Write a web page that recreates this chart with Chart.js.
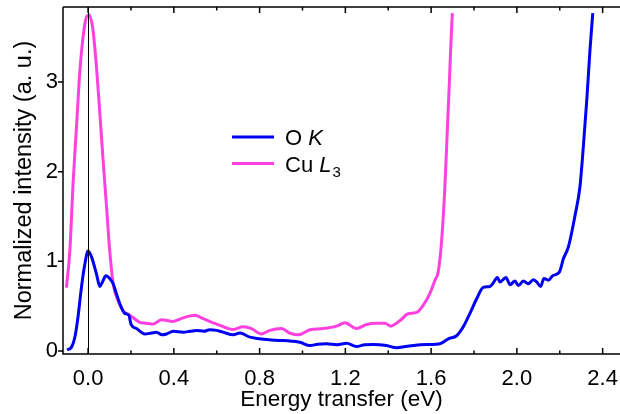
<!DOCTYPE html>
<html>
<head>
<meta charset="utf-8">
<script src="https://cdn.jsdelivr.net/npm/chart.js@4.4.1/dist/chart.umd.min.js"></script>
<style>
  html, body { margin: 0; padding: 0; background: #fff; }
  #wrap { width: 620px; height: 414px; }
</style>
</head>
<body>
<div id="wrap"><canvas id="myChart" width="620" height="414"></canvas></div>
<script>
// O K edge (blue)
const energyO = [
  -0.098, -0.078, -0.062, -0.047, -0.031, -0.015, 0, 0.016, 0.039, 0.055,
  0.067, 0.083, 0.101, 0.117, 0.132, 0.151, 0.171, 0.19, 0.2, 0.226,
  0.265, 0.295, 0.319, 0.345, 0.366, 0.397, 0.443, 0.475, 0.506, 0.54,
  0.568, 0.6, 0.63, 0.677, 0.708, 0.755, 0.79, 0.832, 0.87, 0.91,
  0.95, 0.988, 1.035, 1.07, 1.112, 1.16, 1.206, 1.252, 1.29, 1.33,
  1.392, 1.439, 1.48, 1.517, 1.548, 1.594, 1.641, 1.68, 1.719, 1.75,
  1.781, 1.812, 1.843, 1.874, 1.89, 1.909, 1.921, 1.949, 1.968, 1.991,
  2.007, 2.03, 2.053, 2.077, 2.092, 2.111, 2.126, 2.147, 2.167, 2.198,
  2.217, 2.24, 2.271, 2.294, 2.31, 2.326, 2.341, 2.354
];
const intensityO = [
  0.013, 0.04, 0.15, 0.38, 0.71, 0.97, 1.115, 1.05, 0.86, 0.72,
  0.77, 0.84, 0.81, 0.75, 0.64, 0.51, 0.42, 0.40, 0.30, 0.25,
  0.19, 0.20, 0.21, 0.18, 0.19, 0.22, 0.21, 0.22, 0.23, 0.22,
  0.237, 0.23, 0.21, 0.18, 0.20, 0.155, 0.14, 0.128, 0.12, 0.117,
  0.11, 0.098, 0.061, 0.075, 0.08, 0.07, 0.087, 0.05, 0.07, 0.073,
  0.061, 0.036, 0.05, 0.061, 0.07, 0.073, 0.08, 0.136, 0.17, 0.27,
  0.42, 0.58, 0.71, 0.72, 0.76, 0.82, 0.77, 0.82, 0.74, 0.78,
  0.73, 0.78, 0.75, 0.795, 0.77, 0.72, 0.81, 0.79, 0.84, 0.88,
  1.03, 1.16, 1.51, 1.83, 2.28, 2.80, 3.36, 3.77
];

// Cu L3 edge (pink)
const energyCu = [
  -0.101, -0.085, -0.07, -0.054, -0.039, -0.023, -0.007, 0.005, 0.023, 0.039,
  0.055, 0.07, 0.086, 0.101, 0.117, 0.14, 0.163, 0.195, 0.241, 0.27,
  0.303, 0.342, 0.397, 0.443, 0.498, 0.537, 0.583, 0.615, 0.677, 0.723,
  0.762, 0.809, 0.848, 0.902, 0.941, 0.98, 1.035, 1.097, 1.159, 1.198,
  1.252, 1.299, 1.346, 1.385, 1.411, 1.455, 1.493, 1.532, 1.563, 1.594,
  1.618, 1.633, 1.649, 1.665, 1.675, 1.685, 1.693, 1.699
];
const intensityCu = [
  0.706, 1.12, 1.87, 2.5, 3.10, 3.51, 3.73, 3.75, 3.58, 3.17,
  2.65, 2.13, 1.61, 1.12, 0.75, 0.56, 0.45, 0.40, 0.32, 0.31,
  0.30, 0.35, 0.33, 0.37, 0.40, 0.36, 0.315, 0.285, 0.24, 0.27,
  0.25, 0.19, 0.23, 0.25, 0.20, 0.18, 0.237, 0.25, 0.277, 0.315,
  0.25, 0.296, 0.31, 0.31, 0.277, 0.34, 0.415, 0.43, 0.51, 0.64,
  0.79, 0.88, 1.23, 1.87, 2.43, 2.99, 3.47, 3.77
];

const xMajorTicks = [0, 0.4, 0.8, 1.2, 1.6, 2.0, 2.4];
const xMinorTicks = [0.2, 0.6, 1.0, 1.4, 1.8, 2.2];
const yMajorTicks = [0, 1, 2, 3];

const FONT = "'Liberation Sans', Arial, sans-serif";
const BLUE = '#0000f5';
const PINK = '#ff40e0';

const toPoints = (xs, ys) => xs.map((x, i) => ({ x: x, y: ys[i] }));

// no extra room for overhanging tick labels: the plot box is fixed by layout.padding
const noOverhang = s => {
  s.paddingLeft = 0; s.paddingRight = 0; s.paddingTop = 0; s.paddingBottom = 0;
};

// frame, tick marks, zero line and legend
const framePlugin = {
  id: 'frame',
  afterDatasetsDraw(chart) {
    const ctx = chart.ctx;
    const xs = chart.scales.x;
    const ys = chart.scales.y;
    const a = chart.chartArea;
    ctx.save();
    ctx.strokeStyle = '#000';

    // vertical line at zero energy
    ctx.lineWidth = 1;
    const x0 = Math.round(xs.getPixelForValue(0)) + 0.5;
    ctx.beginPath();
    ctx.moveTo(x0, a.top);
    ctx.lineTo(x0, a.bottom);
    ctx.stroke();

    ctx.lineWidth = 1.5;
    ctx.beginPath();
    ctx.moveTo(a.left, a.top);
    ctx.lineTo(a.right, a.top);
    ctx.moveTo(a.left, a.top);
    ctx.lineTo(a.left, a.bottom);
    ctx.lineTo(a.right, a.bottom);
    xMajorTicks.forEach(v => {
      const p = xs.getPixelForValue(v);
      ctx.moveTo(p, a.bottom); ctx.lineTo(p, a.bottom - 6);
      ctx.moveTo(p, a.top); ctx.lineTo(p, a.top + 6);
    });
    xMinorTicks.forEach(v => {
      const p = xs.getPixelForValue(v);
      ctx.moveTo(p, a.bottom); ctx.lineTo(p, a.bottom - 3.5);
      ctx.moveTo(p, a.top); ctx.lineTo(p, a.top + 3.5);
    });
    yMajorTicks.forEach(v => {
      const p = ys.getPixelForValue(v);
      ctx.moveTo(a.left, p); ctx.lineTo(a.left - 5, p);
    });
    ctx.stroke();

    // legend
    const items = [
      { color: BLUE, parts: [['O ', 'normal'], ['K', 'italic']] },
      { color: PINK, parts: [['Cu ', 'normal'], ['L', 'italic'], ['3', 'sub']] }
    ];
    ctx.textBaseline = 'alphabetic';
    ctx.fillStyle = '#000';
    items.forEach((it, i) => {
      const y = 137 + i * 26.5;
      ctx.strokeStyle = it.color;
      ctx.lineWidth = 3;
      ctx.beginPath();
      ctx.moveTo(232, y);
      ctx.lineTo(274, y);
      ctx.stroke();
      let tx = 285;
      it.parts.forEach(([txt, style]) => {
        if (style === 'sub') {
          ctx.font = '15px ' + FONT;
          ctx.fillText(txt, tx + 1, y + 13);
        } else {
          ctx.font = (style === 'italic' ? 'italic ' : '') + '22px ' + FONT;
          ctx.fillText(txt, tx, y + 8);
        }
        tx += ctx.measureText(txt).width;
      });
    });
    ctx.restore();
  }
};

const data = {
  datasets: [
    {
      label: 'O K',
      data: toPoints(energyO, intensityO),
      borderColor: BLUE,
      borderWidth: 3,
      pointRadius: 0,
      cubicInterpolationMode: 'monotone',
      fill: false
    },
    {
      label: 'Cu L3',
      data: toPoints(energyCu, intensityCu),
      borderColor: PINK,
      borderWidth: 3,
      pointRadius: 0,
      cubicInterpolationMode: 'monotone',
      fill: false
    }
  ]
};

const config = {
  type: 'scatter',
  data: data,
  options: {
    responsive: false,
    animation: false,
    showLine: true,
    layout: { padding: { top: 7, right: 0, left: 0, bottom: 0 } },
    plugins: {
      legend: { display: false },
      tooltip: { enabled: false }
    },
    scales: {
      x: {
        type: 'linear',
        min: -0.117,
        max: 2.481,
        grid: { display: false, drawTicks: false },
        border: { display: false },
        afterBuildTicks: s => { s.ticks = xMajorTicks.map(v => ({ value: v })); },
        afterFit: s => { s.height = 60; noOverhang(s); },
        ticks: {
          color: '#000',
          padding: 12,
          font: { family: FONT, size: 22 },
          maxRotation: 0,
          callback: v => v.toFixed(1)
        },
        title: {
          display: true,
          text: 'Energy transfer (eV)',
          color: '#000',
          padding: { top: 0, bottom: 1 },
          font: { family: FONT, size: 22.5 }
        }
      },
      y: {
        type: 'linear',
        min: -0.0335,
        max: 3.838,
        grid: { display: false, drawTicks: false },
        border: { display: false },
        afterBuildTicks: s => { s.ticks = yMajorTicks.map(v => ({ value: v })); },
        afterFit: s => { s.width = 63; noOverhang(s); },
        ticks: {
          color: '#000',
          padding: 5,
          font: { family: FONT, size: 22 },
          callback: v => String(v)
        },
        title: {
          display: true,
          text: 'Normalized intensity (a. u.)',
          color: '#000',
          padding: { top: 10, bottom: 0 },
          font: { family: FONT, size: 23.5 }
        }
      }
    }
  },
  plugins: [framePlugin]
};

const myChart = new Chart(document.getElementById('myChart'), config);
</script>
</body>
</html>
